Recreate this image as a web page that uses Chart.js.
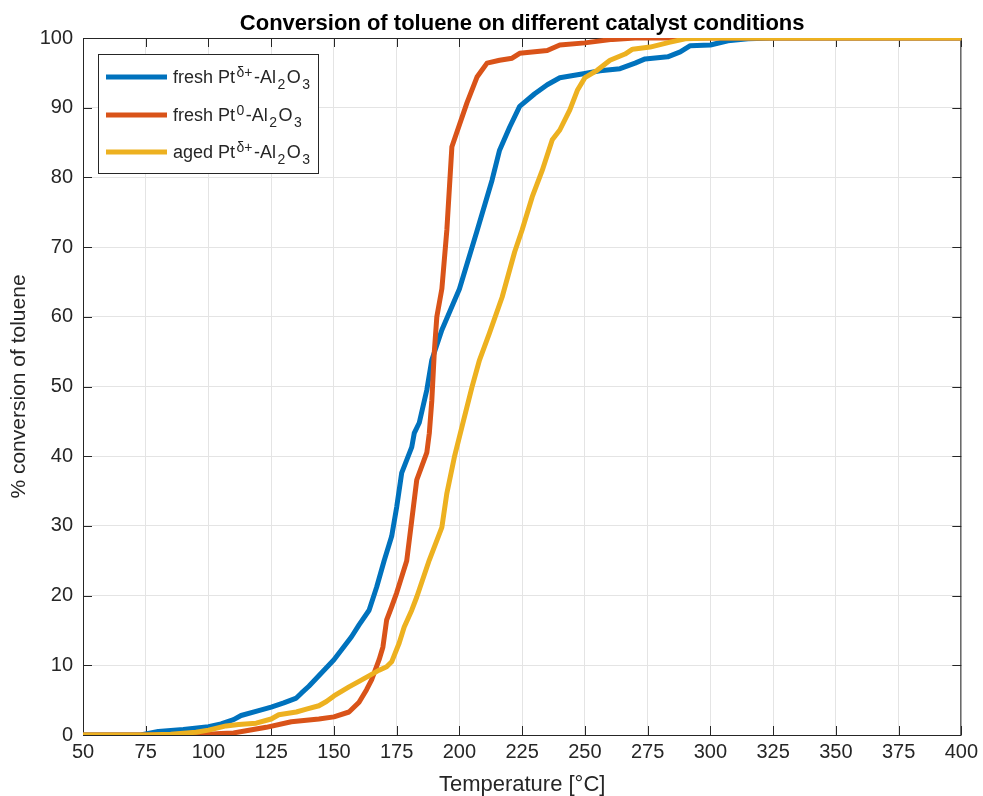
<!DOCTYPE html>
<html>
<head>
<meta charset="utf-8">
<script src="https://cdn.jsdelivr.net/npm/chart.js@4.4.1/dist/chart.umd.min.js"></script>
<style>
    body { margin: 0; background: #ffffff; }
    #wrap { width: 983px; height: 796px; }
</style>
</head>
<body>
<div id="wrap"><canvas id="myChart" width="983" height="796"></canvas></div>
<script>
// Axis ticks
const xTicks = [50, 75, 100, 125, 150, 175, 200, 225, 250, 275, 300, 325, 350, 375, 400];
const yTicks = [0, 10, 20, 30, 40, 50, 60, 70, 80, 90, 100];

// fresh Pt(δ+)-Al2O3
const freshDeltaTemp = [50, 73, 80, 90, 100, 105, 110, 113, 120, 125, 130, 135, 137, 140, 145, 150, 157, 160, 164, 167, 170, 173, 175, 177, 181, 182, 184, 187, 189, 193, 200, 207, 213, 216, 220, 224, 230, 235, 240, 250, 256, 264, 270, 274, 283, 288, 292, 300, 307, 315, 325, 400];
const freshDeltaConv = [0, 0, 0.5, 0.8, 1.2, 1.6, 2.2, 2.8, 3.5, 4.0, 4.6, 5.3, 6.0, 7.0, 8.9, 10.8, 14.1, 15.8, 17.9, 21.2, 25, 28.5, 32.7, 37.6, 41.3, 43.3, 44.8, 49.5, 53.8, 58.1, 64, 72.3, 79.6, 83.9, 87.2, 90.2, 92, 93.3, 94.3, 94.9, 95.3, 95.6, 96.4, 97, 97.3, 98, 98.9, 99, 99.6, 99.9, 100, 100];

// fresh Pt(0)-Al2O3
const freshZeroTemp = [50, 95, 100, 105, 110, 115, 123, 133, 144, 150, 156, 160, 163, 165, 168, 169.5, 171, 173, 175, 179, 181, 183, 187, 188, 189, 190, 191, 193, 195, 197, 203, 207, 211, 216, 221, 224, 235, 240, 250, 261, 270, 400];
const freshZeroConv = [0, 0, 0.1, 0.2, 0.3, 0.6, 1.1, 1.9, 2.3, 2.6, 3.3, 4.7, 6.5, 7.9, 10.8, 12.6, 16.5, 18.4, 20.4, 25, 30.8, 36.6, 40.5, 43.3, 48, 55, 60, 64, 72.5, 84.4, 90.7, 94.4, 96.4, 96.8, 97.1, 97.8, 98.2, 99, 99.3, 99.8, 100, 100];

// aged Pt(δ+)-Al2O3
const agedDeltaTemp = [50, 75, 85, 95, 100, 107, 112, 119, 125, 128, 135, 139, 144, 147, 150, 156, 160, 165, 168, 171, 173, 176, 178, 181, 183, 188, 193, 195, 198, 201, 205, 208, 212, 217, 222, 225, 229, 233, 237, 240, 244, 247, 250, 255, 260, 266, 269, 276, 284, 290, 300, 400];
const agedDeltaConv = [0, 0, 0.1, 0.4, 0.7, 1.3, 1.5, 1.7, 2.3, 2.9, 3.3, 3.7, 4.2, 4.8, 5.6, 6.9, 7.7, 8.7, 9.3, 9.8, 10.5, 13.2, 15.5, 17.9, 19.8, 25.1, 29.8, 34.7, 39.9, 44.2, 49.9, 53.8, 57.7, 62.8, 69.3, 72.5, 77.2, 81, 85.4, 86.8, 89.7, 92.5, 94.3, 95.4, 96.8, 97.7, 98.4, 98.7, 99.4, 99.9, 100, 100];

const colors = ['#0072BD', '#D95319', '#EDB120'];
const axisColor = '#262626';
const fontName = '"Liberation Sans", Arial, sans-serif';

function toPoints(xs, ys) {
    return xs.map(function (x, i) { return { x: x, y: ys[i] }; });
}

// legend labels with superscripts and subscripts
const legendParts = [
    [['fresh Pt', ''], ['δ+', 'sup'], ['-Al', ''], ['2', 'sub'], ['O', ''], ['3', 'sub']],
    [['fresh Pt', ''], ['0', 'sup'], ['-Al', ''], ['2', 'sub'], ['O', ''], ['3', 'sub']],
    [['aged Pt', ''], ['δ+', 'sup'], ['-Al', ''], ['2', 'sub'], ['O', ''], ['3', 'sub']]
];

function drawRich(ctx, parts, x, y) {
    parts.forEach(function (p) {
        let size = 18;
        let dy = 0;
        let gap = 0;
        if (p[1] === 'sup') { size = 14; dy = -6; gap = 1.5; }
        if (p[1] === 'sub') { size = 14; dy = 6; gap = 1.5; }
        ctx.font = size + 'px ' + fontName;
        x += gap;
        ctx.fillText(p[0], x, y + dy);
        x += ctx.measureText(p[0]).width + gap;
    });
}

const matlabStyle = {
    id: 'matlabStyle',
    beforeDatasetsDraw(chart) {
        const ctx = chart.ctx;
        const a = chart.chartArea;
        const xs = chart.scales.x;
        const ys = chart.scales.y;
        ctx.save();
        ctx.strokeStyle = axisColor;
        ctx.lineWidth = 1;
        ctx.strokeRect(a.left + 0.5, a.top + 0.5, a.right - a.left - 1, a.bottom - a.top);
        ctx.beginPath();
        xTicks.forEach(function (t) {
            const px = Math.round(xs.getPixelForValue(t)) + 0.5;
            ctx.moveTo(px, a.bottom); ctx.lineTo(px, a.bottom - 9);
            ctx.moveTo(px, a.top); ctx.lineTo(px, a.top + 9);
        });
        yTicks.forEach(function (t) {
            const py = Math.round(ys.getPixelForValue(t)) + 0.5;
            ctx.moveTo(a.left, py); ctx.lineTo(a.left + 9, py);
            ctx.moveTo(a.right, py); ctx.lineTo(a.right - 9, py);
        });
        ctx.stroke();
        ctx.restore();
    },
    afterDraw(chart) {
        const ctx = chart.ctx;
        ctx.save();

        // title
        ctx.fillStyle = '#000000';
        ctx.font = 'bold 22px ' + fontName;
        ctx.textAlign = 'center';
        ctx.textBaseline = 'alphabetic';
        const a = chart.chartArea;
        ctx.fillText('Conversion of toluene on different catalyst conditions', (a.left + a.right) / 2, 30);

        // legend
        ctx.fillStyle = '#ffffff';
        ctx.fillRect(98, 54, 220, 119);
        ctx.strokeStyle = axisColor;
        ctx.lineWidth = 1;
        ctx.strokeRect(98.5, 54.5, 220, 119);
        ctx.textAlign = 'left';
        const rows = [77, 115, 152];
        rows.forEach(function (ry, i) {
            ctx.strokeStyle = colors[i];
            ctx.lineWidth = 5;
            ctx.beginPath();
            ctx.moveTo(106, ry);
            ctx.lineTo(167, ry);
            ctx.stroke();
            ctx.fillStyle = axisColor;
            drawRich(ctx, legendParts[i], 173, ry + 6);
        });
        ctx.restore();
    }
};

const lineData = {
    datasets: [
        { label: 'fresh Pt δ+', data: toPoints(freshDeltaTemp, freshDeltaConv), borderColor: colors[0], order: 2 },
        { label: 'fresh Pt 0', data: toPoints(freshZeroTemp, freshZeroConv), borderColor: colors[1], order: 1 },
        { label: 'aged Pt δ+', data: toPoints(agedDeltaTemp, agedDeltaConv), borderColor: colors[2], order: 0 }
    ]
};

const config = {
    type: 'line',
    data: lineData,
    options: {
        responsive: false,
        animation: false,
        layout: { padding: { top: 38, right: 20, left: 0, bottom: 0 } },
        elements: {
            line: { borderWidth: 5, tension: 0, borderJoinStyle: 'round', borderCapStyle: 'round' },
            point: { radius: 0, hoverRadius: 0 }
        },
        plugins: {
            legend: { display: false },
            title: { display: false },
            tooltip: { enabled: false }
        },
        scales: {
            x: {
                type: 'linear',
                min: 50,
                max: 400,
                afterBuildTicks: function (s) { s.ticks = xTicks.map(function (v) { return { value: v }; }); },
                afterFit: function (s) { s.height = 61; },
                ticks: { color: axisColor, font: { family: fontName, size: 20 }, padding: 5, maxRotation: 0 },
                grid: { color: '#e4e4e4', drawTicks: false },
                border: { display: false },
                title: { display: true, text: 'Temperature [°C]', color: axisColor, font: { family: fontName, size: 22, lineHeight: 1 }, padding: { top: 0, bottom: 0 } }
            },
            y: {
                min: 0,
                max: 100,
                afterBuildTicks: function (s) { s.ticks = yTicks.map(function (v) { return { value: v }; }); },
                afterFit: function (s) { s.width = 83; },
                ticks: { color: axisColor, font: { family: fontName, size: 20 }, padding: 10 },
                grid: { color: '#e4e4e4', drawTicks: false },
                border: { display: false },
                title: { display: true, text: '% conversion of toluene', color: axisColor, font: { family: fontName, size: 21 }, padding: { top: 7, bottom: 0 } }
            }
        }
    },
    plugins: [matlabStyle]
};

const chart = new Chart(document.getElementById('myChart'), config);
</script>
</body>
</html>
